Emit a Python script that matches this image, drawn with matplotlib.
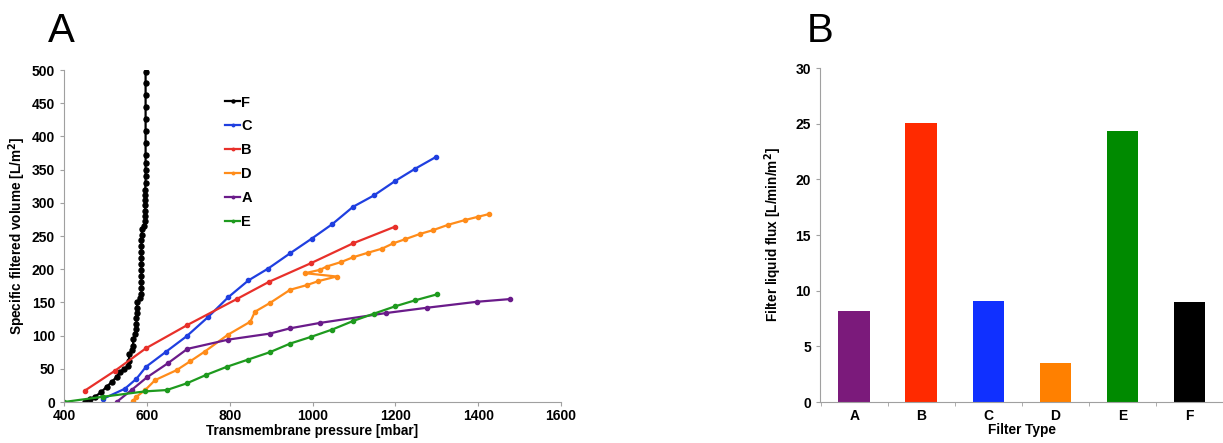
import numpy as np
import matplotlib
matplotlib.use("Agg")
import matplotlib.pyplot as plt

plt.rcParams['font.family'] = ['Liberation Sans', 'DejaVu Sans']
plt.rcParams['font.weight'] = 'bold'

# Panel A data: transmembrane pressure [mbar] vs specific filtered volume [L/m2]
f_x = [450, 462, 475, 490, 503, 515, 527, 535, 545, 555, 557, 557, 565, 567, 567, 572, 575, 575,
       575, 576, 576, 577, 583, 587, 587, 587, 587, 587, 587, 587, 587, 587, 587, 588, 588, 594,
       596, 596, 596, 596, 596, 596, 596, 597, 597, 597, 597, 597, 597, 597, 597, 597, 597, 597, 597]
f_y = [0, 4, 8, 15, 23, 30, 38, 45, 50, 54, 62, 72, 78, 85, 95, 102, 110, 118,
       126, 134, 142, 150, 156, 163, 172, 181, 190, 199, 208, 217, 226, 235, 244, 252, 260, 265,
       272, 280, 288, 296, 304, 312, 320, 330, 340, 350, 360, 372, 390, 408, 426, 444, 462, 480, 497]

c_x = [495, 547, 575, 598, 647, 696, 748, 797, 845, 893, 946, 998, 1048, 1098, 1148, 1200, 1247, 1298]
c_y = [5, 20, 35, 53, 76, 99, 128, 158, 183, 201, 224, 246, 268, 294, 311, 333, 351, 369]

b_x = [450, 523, 598, 698, 817, 895, 996, 1098, 1199]
b_y = [17, 47, 81, 116, 155, 181, 209, 239, 264]

d_x = [567, 575, 596, 620, 672, 704, 740, 795, 850, 861, 897, 946, 986, 1014, 1058, 982, 1018, 1034,
       1070, 1098, 1135, 1168, 1195, 1223, 1259, 1292, 1328, 1368, 1400, 1426]
d_y = [2, 8, 18, 33, 48, 61, 76, 101, 121, 136, 149, 169, 176, 182, 189, 194, 199, 204,
       211, 218, 225, 231, 239, 245, 253, 259, 267, 274, 279, 283]

a_x = [527, 563, 600, 650, 698, 797, 897, 946, 1017, 1178, 1277, 1398, 1477]
a_y = [0, 18, 37, 58, 80, 94, 103, 111, 119, 134, 142, 151, 155]

e_x = [400, 495, 596, 648, 696, 744, 793, 845, 897, 946, 996, 1047, 1098, 1148, 1199, 1247, 1300]
e_y = [0, 8, 16, 18, 28, 41, 53, 64, 75, 88, 98, 109, 122, 133, 144, 153, 162]

# Panel B data
filter_types = ['A', 'B', 'C', 'D', 'E', 'F']
flux = [8.2, 25.1, 9.1, 3.5, 24.3, 9.0]
bar_colors = ['#7b1a7b', '#ff2a00', '#1030ff', '#ff8000', '#008a00', '#000000']

fig = plt.figure(figsize=(12.23, 4.43), dpi=100)
gray = '#a0a0a0'

ax1 = fig.add_axes([64 / 1223, 1 - 402 / 443, 497 / 1223, 332 / 443])
series = [('F', f_x, f_y, '#000000', 3.6), ('C', c_x, c_y, '#1f3fe0', 3), ('B', b_x, b_y, '#e8302a', 3),
          ('D', d_x, d_y, '#ff8c1a', 3), ('A', a_x, a_y, '#6a1b8a', 3), ('E', e_x, e_y, '#1e9a1e', 3)]
for name, xs, ys, col, ms in series:
    ax1.plot(xs, ys, '-o', color=col, lw=1.6, ms=ms, label=name)
ax1.set_xlim(400, 1600)
ax1.set_ylim(0, 500)
ax1.set_xticks(np.arange(400, 1601, 200))
ax1.set_yticks(np.arange(0, 501, 50))
ax1.set_xlabel('Transmembrane pressure [mbar]', fontsize=9.8, fontweight='bold', labelpad=1)
ax1.set_ylabel('Specific filtered volume [L/m$^\\mathbf{2}$]', fontsize=9.8, fontweight='bold', labelpad=3)
ax1.legend(loc='upper left', bbox_to_anchor=(0.31, 0.945), frameon=False, fontsize=10.5,
           handlelength=1.0, handletextpad=0.1, labelspacing=0.68, borderpad=0, markerscale=0.6)

ax2 = fig.add_axes([820 / 1223, 1 - 402 / 443, 403 / 1223, 334 / 443])
xpos = np.arange(len(filter_types))
ax2.bar(xpos, flux, width=0.47, color=bar_colors)
ax2.set_xlim(-0.51, 5.47)
ax2.set_ylim(0, 30)
ax2.set_xticks(xpos)
ax2.set_xticklabels(filter_types)
ax2.set_xticks(np.arange(-0.5, 5.6, 1), minor=True)
ax2.set_yticks(np.arange(0, 31, 5))
ax2.set_xlabel('Filter Type', fontsize=9.8, fontweight='bold', labelpad=0)
ax2.set_ylabel('Filter liquid flux [L/min/m$^\\mathbf{2}$]', fontsize=9.8, fontweight='bold', labelpad=8)

for ax in (ax1, ax2):
    for s in ('top', 'right'):
        ax.spines[s].set_visible(False)
    for s in ('left', 'bottom'):
        ax.spines[s].set_color(gray)
        ax.spines[s].set_linewidth(0.8)
    ax.tick_params(axis='both', labelsize=10, color=gray, length=3)
    ax.tick_params(axis='x', pad=2)
    for lab in ax.get_xticklabels() + ax.get_yticklabels():
        lab.set_fontweight('bold')

ax2.tick_params(axis='x', which='major', length=0, pad=5)
ax2.tick_params(axis='x', which='minor', length=3, color=gray)

fig.text(48 / 1223, 1 - 42 / 443, 'A', fontsize=29, fontweight='normal')
fig.text(807 / 1223, 1 - 42 / 443, 'B', fontsize=29, fontweight='normal')

plt.savefig('out.png', dpi=100)
